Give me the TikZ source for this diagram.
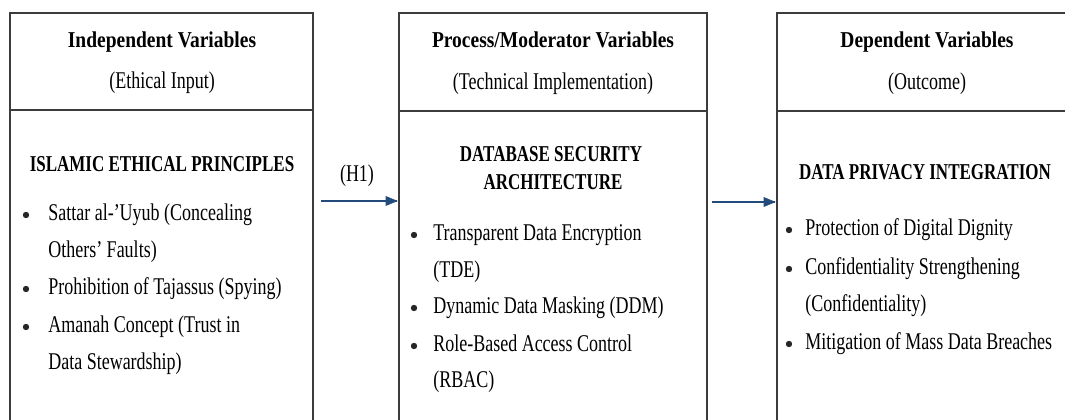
\documentclass[tikz,border=0pt]{standalone}
\usepackage{fontspec}
\setmainfont{Liberation Serif}[FakeStretch=0.75]
\newfontfamily\headfont{Liberation Serif}[FakeStretch=0.86]
\definecolor{framegray}{RGB}{60,60,60}
\definecolor{arrowblue}{RGB}{34,74,122}
\begin{document}
\begin{tikzpicture}[x=0.75pt,y=0.75pt,yscale=-1,xscale=1,
	txt/.style={anchor=base,inner sep=0.75pt,font=\fontsize{18}{21}\selectfont},
	lft/.style={txt,anchor=base west},
	hd/.style={txt,font=\headfont\fontsize{17}{20}\selectfont\bfseries},
	ttl/.style={txt,font=\fontsize{17}{20}\selectfont\bfseries},
	dot/.style={circle,fill=black!85,inner sep=0pt,minimum size=4.8pt},
	frame/.style={color=framegray,line width=1.4pt},
	link/.style={color=arrowblue,line width=1.2pt}]
			%set diagram left start at 0, and has height of 420
			\clip (0,0) rectangle (1065,420);
			
			%Shape: Rectangle
			\draw [frame] (10,13) rectangle (313,440);
			%Straight Lines
			\draw [frame] (10,110) -- (313,110);
			%Shape: Rectangle
			\draw [frame] (399,13) rectangle (707,440);
			%Straight Lines
			\draw [frame] (399,111) -- (707,111);
			%Shape: Rectangle
			\draw [frame] (777,13) rectangle (1085,440);
			%Straight Lines
			\draw [frame] (777,111) -- (1085,111);
			
			%Straight Lines
			\coordinate (h1s) at (321,201);
			\coordinate (h1e) at (397,201);
			\draw [link] (h1s) -- (h1e);
			\draw [shift={(h1e)}, rotate=180][color=arrowblue][fill=arrowblue] (11,-4.5) -- (0,0) -- (11,4.5) -- cycle;
			%Straight Lines
			\coordinate (h2s) at (712,202);
			\coordinate (h2e) at (775,202);
			\draw [link] (h2s) -- (h2e);
			\draw [shift={(h2e)}, rotate=180][color=arrowblue][fill=arrowblue] (11,-4.5) -- (0,0) -- (11,4.5) -- cycle;
			
			% Text Node
			\draw (162,48) node [hd] (indhd) {Independent Variables};
			% Text Node
			\draw (162,89) node [txt] (indsub) {(Ethical Input)};
			% Text Node
			\draw (162,172) node [ttl] (indttl) {ISLAMIC ETHICAL PRINCIPLES};
			% Text Node
			\draw (26,215) node [dot] (indb1) {};
			\draw (47,221) node [lft] (indi1) {Sattar al-'Uyub (Concealing};
			\draw (47,258) node [lft] (indi1b) {Others' Faults)};
			% Text Node
			\draw (26,289) node [dot] (indb2) {};
			\draw (47,295) node [lft] (indi2) {Prohibition of Tajassus (Spying)};
			% Text Node
			\draw (26,327) node [dot] (indb3) {};
			\draw (47,333) node [lft] (indi3) {Amanah Concept (Trust in};
			\draw (47,370) node [lft] (indi3b) {Data Stewardship)};
			
			% Text Node
			\draw (553,48) node [hd] (prchd) {Process/Moderator Variables};
			% Text Node
			\draw (553,90) node [txt] (prcsub) {(Technical Implementation)};
			% Text Node
			\draw (551,162) node [ttl] (prcttl) {DATABASE SECURITY};
			\draw (553,190) node [ttl] (prcttlb) {ARCHITECTURE};
			% Text Node
			\draw (414,235) node [dot] (prcb1) {};
			\draw (432,241) node [lft] (prci1) {Transparent Data Encryption};
			\draw (432,278) node [lft] (prci1b) {(TDE)};
			% Text Node
			\draw (414,308) node [dot] (prcb2) {};
			\draw (432,314) node [lft] (prci2) {Dynamic Data Masking (DDM)};
			% Text Node
			\draw (414,346) node [dot] (prcb3) {};
			\draw (432,352) node [lft] (prci3) {Role-Based Access Control};
			\draw (432,388) node [lft] (prci3b) {(RBAC)};
			
			% Text Node
			\draw (927,48) node [hd] (dephd) {Dependent Variables};
			% Text Node
			\draw (927,90) node [txt] (depsub) {(Outcome)};
			% Text Node
			\draw (925,180) node [ttl] (depttl) {DATA PRIVACY INTEGRATION};
			% Text Node
			\draw (789,230) node [dot] (depb1) {};
			\draw (804,236) node [lft] (depi1) {Protection of Digital Dignity};
			% Text Node
			\draw (789,269) node [dot] (depb2) {};
			\draw (804,275) node [lft] (depi2) {Confidentiality Strengthening};
			\draw (804,312) node [lft] (depi2b) {(Confidentiality)};
			% Text Node
			\draw (789,344) node [dot] (depb3) {};
			\draw (804,350) node [lft] (depi3) {Mitigation of Mass Data Breaches};
			
			% Text Node
			\draw (357,182) node [txt] (hyp) {(H1)};
			
		\end{tikzpicture}
\end{document}
